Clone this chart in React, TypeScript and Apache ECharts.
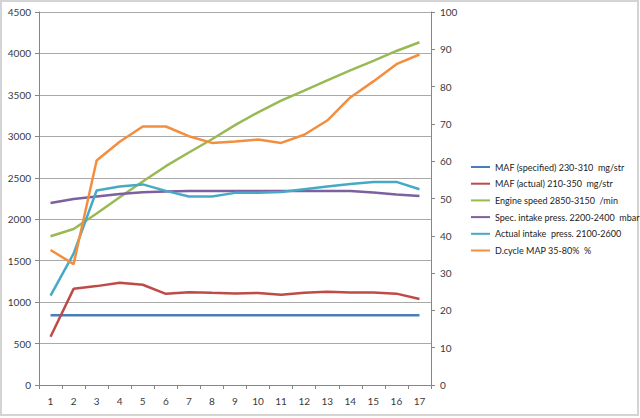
import React, { useEffect, useRef } from "react";
import * as echarts from "echarts";

const categories = ["1","2","3","4","5","6","7","8","9","10","11","12","13","14","15","16","17"];
const mafSpecified = [842,842,842,842,842,842,842,842,842,842,842,842,842,842,842,842,842];
const mafActual = [582,1160,1193,1233,1209,1100,1120,1112,1105,1110,1090,1112,1124,1115,1115,1102,1038];
const engineSpeed = [1795,1882,2068,2265,2455,2640,2805,2965,3135,3290,3430,3552,3675,3795,3910,4030,4135];
const specIntake = [2195,2243,2275,2305,2325,2335,2340,2340,2340,2340,2340,2340,2340,2340,2322,2298,2280];
const actualIntake = [1078,1585,2347,2395,2420,2342,2275,2275,2318,2320,2328,2362,2395,2425,2450,2450,2362];
const dutyCycle = [36.2,32.4,60.2,65.2,69.3,69.3,66.7,64.9,65.3,65.8,64.9,67.1,70.9,77.1,81.4,86.0,88.6];

const names = [
  "MAF (specified) 230-310  mg/str",
  "MAF (actual) 210-350  mg/str",
  "Engine speed 2850-3150  /min",
  "Spec. intake press. 2200-2400  mbar",
  "Actual intake  press. 2100-2600",
  "D.cycle MAP 35-80%  %",
];
const colors = ["#4A7EBB", "#BE4B48", "#98B954", "#7D60A0", "#46AAC5", "#F38E3F"];

export default function App() {
  const ref = useRef<HTMLDivElement>(null);
  useEffect(() => {
    if (!ref.current) return;
    const chart = echarts.init(ref.current, undefined, { renderer: "svg" });
    const font = "Lato, 'Open Sans', sans-serif";
    const axisColor = "#868686";
    const labelColor = "#3a3a3a";
    const data = [mafSpecified, mafActual, engineSpeed, specIntake, actualIntake, dutyCycle];
    chart.setOption({
      animation: false,
      backgroundColor: "#ffffff",
      grid: { left: 39, right: 209, top: 12, bottom: 33, containLabel: false },
      legend: {
        orient: "vertical",
        left: 466,
        top: 156,
        icon: "rect",
        itemWidth: 19,
        itemHeight: 2,
        itemGap: 4.7,
        textStyle: { fontFamily: font, fontSize: 9, color: "#222", lineHeight: 12 },
        data: names,
      },
      xAxis: {
        type: "category",
        data: categories,
        boundaryGap: true,
        axisLine: { lineStyle: { color: axisColor, width: 1 } },
        axisTick: { show: true, length: 4, inside: false, lineStyle: { color: axisColor } },
        axisLabel: { fontFamily: font, fontSize: 10, color: labelColor, margin: 11, interval: 0 },
        splitLine: { show: false },
      },
      yAxis: [
        {
          type: "value",
          min: 0,
          max: 4500,
          interval: 500,
          axisLine: { show: true, lineStyle: { color: axisColor, width: 1 } },
          axisTick: { show: true, length: 4, lineStyle: { color: axisColor } },
          axisLabel: {
            fontFamily: font,
            fontSize: 10,
            color: labelColor,
            margin: 8,
            formatter: (v: number) => String(v),
          },
          splitLine: { show: true, lineStyle: { color: "#a9a9a9", width: 1 } },
        },
        {
          type: "value",
          min: 0,
          max: 100,
          interval: 10,
          position: "right",
          axisLine: { show: true, lineStyle: { color: axisColor, width: 1 } },
          axisTick: { show: true, length: 4, lineStyle: { color: axisColor } },
          axisLabel: { fontFamily: font, fontSize: 10, color: labelColor, margin: 9 },
          splitLine: { show: false },
        },
      ],
      series: names.map((n, i) => ({
        name: n,
        type: "line",
        yAxisIndex: i === 5 ? 1 : 0,
        data: data[i],
        symbol: "none",
        showSymbol: false,
        itemStyle: { color: colors[i] },
        lineStyle: { color: colors[i], width: 2.5 },
      })),
      graphic: [
        {
          type: "rect",
          shape: { x: 1, y: 1, width: 637, height: 414 },
          style: { fill: "none", stroke: "#d4d4d4", lineWidth: 2 },
          silent: true,
          z: -1,
        },
      ],
    });
    return () => chart.dispose();
  }, []);
  return (
    <div
      ref={ref}
      style={{ position: "fixed", left: 0, top: 0, width: 640, height: 418, background: "#fff" }}
    />
  );
}
